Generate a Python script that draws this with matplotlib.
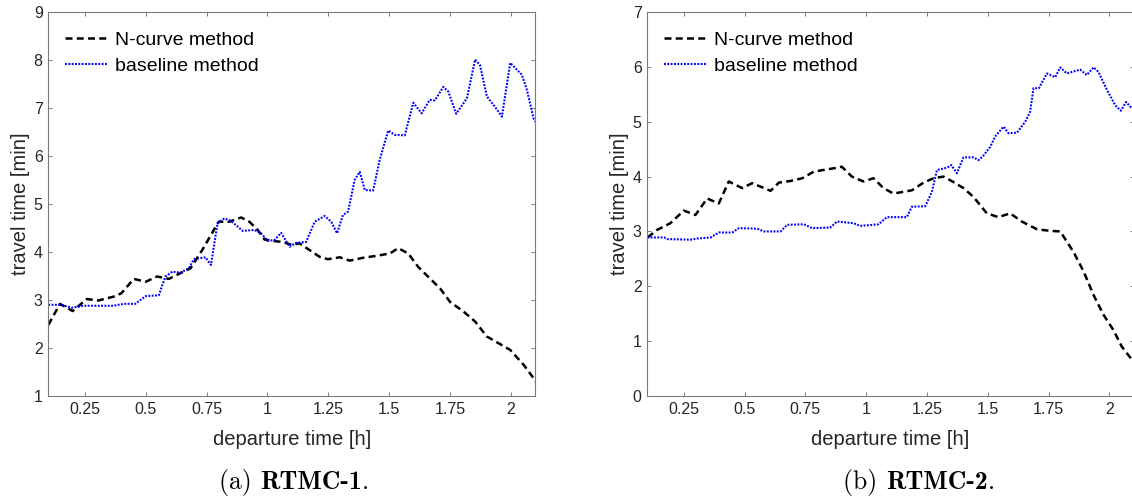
import matplotlib
matplotlib.use("Agg")
import matplotlib.pyplot as plt
from matplotlib.offsetbox import TextArea, HPacker, AnchoredOffsetbox

plt.rcParams['font.family'] = ['Liberation Sans', 'DejaVu Sans']

# ---------------- data ----------------
# (a) RTMC-1
t_ncurve_1 = [0.10, 0.148, 0.20, 0.258, 0.306, 0.368, 0.40, 0.451, 0.50, 0.547, 0.595, 0.643,
              0.684, 0.732, 0.78, 0.80, 0.843, 0.892, 0.926, 0.96, 0.988, 1.022, 1.063, 1.098,
              1.132, 1.173, 1.214, 1.248, 1.297, 1.338, 1.393, 1.448, 1.503, 1.537, 1.578,
              1.619, 1.667, 1.709, 1.75, 1.805, 1.853, 1.901, 1.949, 1.997, 2.052, 2.093, 2.10]
tt_ncurve_1 = [2.48, 2.92, 2.77, 3.02, 2.99, 3.07, 3.14, 3.44, 3.38, 3.49, 3.44, 3.56,
               3.66, 4.04, 4.46, 4.63, 4.63, 4.72, 4.63, 4.46, 4.26, 4.23, 4.21, 4.15,
               4.18, 4.04, 3.90, 3.85, 3.89, 3.82, 3.88, 3.92, 3.97, 4.08, 3.97,
               3.69, 3.45, 3.24, 2.96, 2.76, 2.55, 2.24, 2.10, 1.96, 1.65, 1.37, 1.30]

t_base_1 = [0.10, 0.15, 0.197, 0.245, 0.286, 0.368, 0.41, 0.457, 0.50, 0.554, 0.581, 0.609,
            0.643, 0.677, 0.698, 0.746, 0.768, 0.795, 0.823, 0.85, 0.898, 0.946, 0.974, 1.001,
            1.029, 1.056, 1.091, 1.118, 1.159, 1.194, 1.235, 1.262, 1.286, 1.31, 1.331, 1.358,
            1.379, 1.40, 1.434, 1.461, 1.496, 1.523, 1.564, 1.599, 1.633, 1.667, 1.688, 1.722,
            1.743, 1.775, 1.819, 1.853, 1.873, 1.901, 1.929, 1.963, 1.997, 2.045, 2.066, 2.093, 2.10]
tt_base_1 = [2.90, 2.90, 2.84, 2.88, 2.88, 2.88, 2.92, 2.92, 3.08, 3.10, 3.49, 3.59,
             3.57, 3.66, 3.85, 3.89, 3.73, 4.60, 4.70, 4.65, 4.44, 4.46, 4.39, 4.23,
             4.25, 4.40, 4.11, 4.19, 4.21, 4.63, 4.75, 4.63, 4.39, 4.77, 4.84, 5.50,
             5.67, 5.29, 5.28, 5.92, 6.53, 6.44, 6.43, 7.11, 6.89, 7.17, 7.16, 7.44,
             7.34, 6.88, 7.20, 8.01, 7.89, 7.24, 7.06, 6.82, 7.94, 7.69, 7.37, 6.78, 6.72]

# (b) RTMC-2
t_ncurve_2 = [0.101, 0.141, 0.195, 0.25, 0.298, 0.346, 0.394, 0.435, 0.49, 0.531, 0.607, 0.641,
              0.689, 0.737, 0.785, 0.824, 0.866, 0.90, 0.941, 0.989, 1.03, 1.071, 1.112, 1.188,
              1.236, 1.277, 1.318, 1.359, 1.40, 1.441, 1.496, 1.544, 1.592, 1.64, 1.702, 1.757,
              1.798, 1.852, 1.894, 1.935, 1.976, 2.017, 2.051, 2.093]
tt_ncurve_2 = [2.89, 3.03, 3.15, 3.38, 3.30, 3.60, 3.51, 3.91, 3.79, 3.88, 3.74, 3.89,
               3.92, 3.97, 4.09, 4.12, 4.15, 4.18, 4.00, 3.91, 3.97, 3.79, 3.69, 3.75,
               3.89, 3.97, 4.00, 3.90, 3.79, 3.63, 3.33, 3.26, 3.33, 3.18, 3.04, 3.01,
               3.00, 2.63, 2.27, 1.84, 1.48, 1.20, 0.90, 0.66]

t_base_2 = [0.10, 0.17, 0.182, 0.278, 0.305, 0.36, 0.394, 0.449, 0.477, 0.552, 0.579, 0.648,
            0.675, 0.744, 0.777, 0.852, 0.88, 0.948, 0.975, 1.051, 1.085, 1.167, 1.188, 1.243,
            1.27, 1.291, 1.332, 1.35, 1.373, 1.40, 1.441, 1.462, 1.48, 1.51, 1.53, 1.565,
            1.585, 1.62, 1.654, 1.674, 1.688, 1.71, 1.743, 1.777, 1.798, 1.825, 1.88, 1.907,
            1.935, 1.955, 1.99, 2.024, 2.047, 2.069, 2.093]
tt_base_2 = [2.89, 2.89, 2.86, 2.85, 2.87, 2.89, 2.98, 2.98, 3.06, 3.05, 3.00, 3.00,
             3.12, 3.13, 3.06, 3.07, 3.18, 3.15, 3.10, 3.13, 3.26, 3.26, 3.45, 3.46,
             3.72, 4.12, 4.16, 4.21, 4.06, 4.35, 4.35, 4.30, 4.37, 4.54, 4.73, 4.91,
             4.79, 4.80, 5.00, 5.18, 5.61, 5.61, 5.88, 5.81, 5.99, 5.88, 5.95, 5.85,
             5.99, 5.91, 5.58, 5.30, 5.20, 5.36, 5.24]

x_ticks = [0.25, 0.5, 0.75, 1, 1.25, 1.5, 1.75, 2]
x_ticklabels = ['0.25', '0.5', '0.75', '1', '1.25', '1.5', '1.75', '2']
y_ticks_1 = list(range(1, 10))
y_ticks_2 = list(range(0, 8))
legend_labels = ['N-curve method', 'baseline method']
caption_prefix = ['(a) ', '(b) ']
caption_names = ['RTMC-1', 'RTMC-2']

# ---------------- figure ----------------
W, H = 1132, 498
fig = plt.figure(figsize=(W / 100, H / 100), dpi=100)

def px_rect(x0, x1, ytop, ybot):
    return [x0 / W, 1 - ybot / H, (x1 - x0) / W, (ybot - ytop) / H]

ax1 = fig.add_axes(px_rect(48.3, 535.3, 12, 396))
ax2 = fig.add_axes(px_rect(647.3, 1133.7, 12, 396))

axis_col = '#262626'
spine_col = '#7a7a7a'

def style(ax, t_n, y_n, t_b, y_b, ylim, yticks):
    ax.plot(t_n, y_n, color='black', lw=1.8, ls=(0, (2.8, 1.7)), label=legend_labels[0])
    ax.plot(t_b, y_b, color='#0000ff', lw=1.5, ls=(0, (0.9, 0.7)), label=legend_labels[1])
    ax.set_xlim(0.1, 2.1)
    ax.set_ylim(*ylim)
    ax.set_xticks(x_ticks)
    ax.set_xticklabels(x_ticklabels)
    ax.set_yticks(yticks)
    ax.tick_params(direction='in', top=True, right=True, length=3, width=0.7,
                   color=spine_col, labelsize=11.5, labelcolor=axis_col, pad=4)
    for s in ax.spines.values():
        s.set_color(spine_col)
        s.set_linewidth(0.8)
    ax.set_xlabel('departure time [h]', fontsize=14.5, color=axis_col, labelpad=10)
    ax.set_ylabel('travel time [min]', fontsize=14.5, color=axis_col, labelpad=3)
    leg = ax.legend(loc='upper left', bbox_to_anchor=(17 / 487, 1 - 19 / 384),
                    frameon=False, fontsize=14, handlelength=2.2, handletextpad=0.35,
                    borderaxespad=0, borderpad=0, labelspacing=0.45)
    for txt in leg.get_texts():
        txt.set_color('black')

style(ax1, t_ncurve_1, tt_ncurve_1, t_base_1, tt_base_1, (1, 9), y_ticks_1)
style(ax2, t_ncurve_2, tt_ncurve_2, t_base_2, tt_base_2, (0, 7), y_ticks_2)

def caption(xc, prefix, name):
    size = 18.5
    parts = [TextArea(prefix, textprops=dict(family='cmr10', size=size)),
             TextArea(name, textprops=dict(family='cmb10', size=size)),
             TextArea('.', textprops=dict(family='cmr10', size=size))]
    box = HPacker(children=parts, align='baseline', pad=0, sep=0)
    anch = AnchoredOffsetbox(loc='center', child=box, pad=0, borderpad=0, frameon=False,
                             bbox_to_anchor=(xc / W, 1 - 482 / H),
                             bbox_transform=fig.transFigure)
    fig.add_artist(anch)

caption(294, caption_prefix[0], caption_names[0])
caption(919, caption_prefix[1], caption_names[1])

fig.savefig('out.png', dpi=100)
